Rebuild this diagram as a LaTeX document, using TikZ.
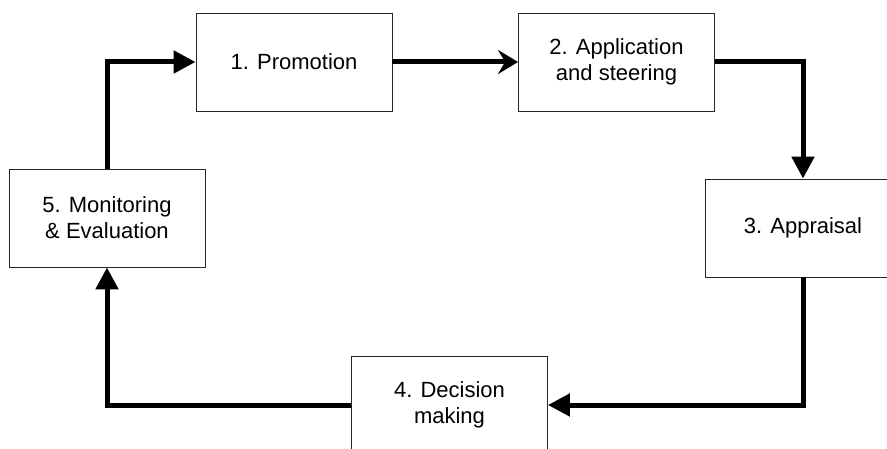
\documentclass[tikz,border=0pt]{standalone}
\usepackage{fontspec}
\setmainfont{Liberation Sans}
\usetikzlibrary{arrows.meta}

\begin{document}
\begin{tikzpicture}[x=1pt,y=-1pt,
  stage/.style={draw=black!85,line width=0.9pt,minimum width=196pt,minimum height=98pt,
    align=center,font=\fontsize{22}{26}\selectfont,inner sep=0pt},
  flow/.style={line width=5pt,-{Triangle[width=22pt,length=22pt]}}]
 % \draw[help lines] (0,0) grid (887,449);
  \useasboundingbox (0,0) rectangle (887,449);
  \clip (0,0) rectangle (887,449);
  \node[stage] (n1) at (294,62)    {1. Promotion};
  \node[stage] (n2) at (616.5,62)  {2. Application\\and steering};
  \node[stage] (n3) at (803,228)   {3. Appraisal};
  \node[stage] (n4) at (449.5,405) {4. Decision\\making};
  \node[stage] (n5) at (107,218)   {5. Monitoring\\\& Evaluation};
  \draw[flow,-{Stealth[width=24pt,length=20pt,inset=7pt]}] (n1.east) -- (n2.west);
  \draw[flow] (n2.east) -| (n3.north);
  \draw[flow] (n3.south) |- (n4.east);
  \draw[flow] (n4.west) -| (n5.south);
  \draw[flow] (n5.north) |- (n1.west);
\end{tikzpicture}
\end{document}
